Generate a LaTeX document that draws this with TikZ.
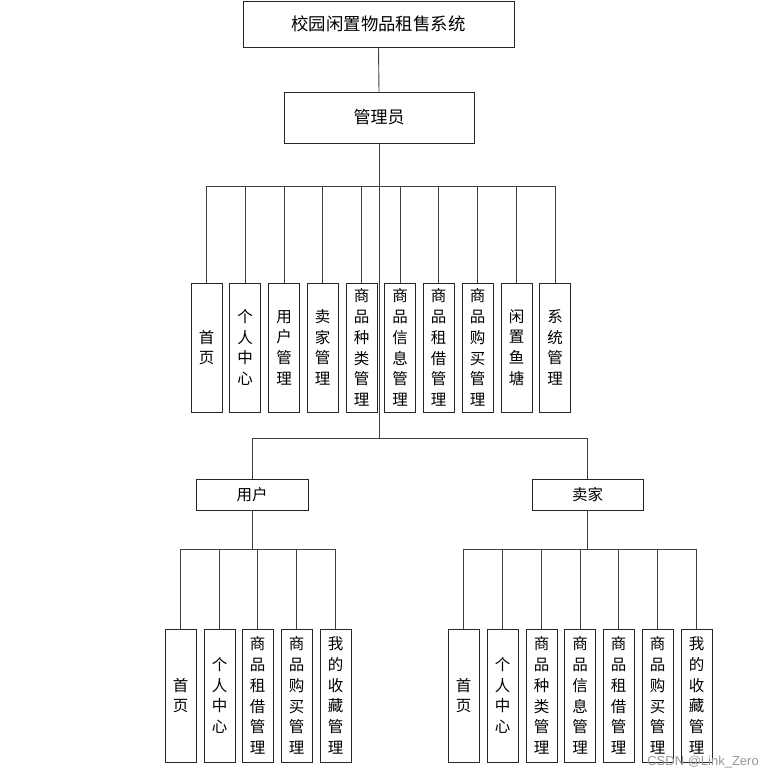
\documentclass[tikz,border=0pt]{standalone}
\usepackage{fontspec}
\newfontfamily\cjk{Noto Sans CJK SC}
\newfontfamily\wmfont{Liberation Sans}
\begin{document}
\begin{tikzpicture}[x=1pt,y=-1pt,
  boxstyle/.style={draw=black!85,line width=0.9pt,fill=white,inner sep=0pt,align=center},
  vbox/.style={boxstyle,minimum width=31pt,minimum height=129pt,font=\cjk\fontsize{15.5}{20.7}\selectfont},
  vboxb/.style={boxstyle,minimum width=31pt,minimum height=133pt,font=\cjk\fontsize{15.5}{20.7}\selectfont},
  conn/.style={draw=black!75,line width=0.9pt}]
\useasboundingbox (0,0) rectangle (774,778);
\fill[white] (0,0) rectangle (774,778);
% top levels
\node[boxstyle,minimum width=271pt,minimum height=46pt,font=\cjk\fontsize{17.4}{19}\selectfont] (sys) at (378.5,24) {校园闲置物品租售系统};
\node[boxstyle,minimum width=190pt,minimum height=51pt,font=\cjk\fontsize{17}{19}\selectfont] (admin) at (379,117.5) {管理员};
% admin children
\node[vbox] (a1) at (206.5,347.5) {首\\页};
\node[vbox] (a2) at (245,347.5) {个\\人\\中\\心};
\node[vbox] (a3) at (284,347.5) {用\\户\\管\\理};
\node[vbox] (a4) at (322.5,347.5) {卖\\家\\管\\理};
\node[vbox] (a5) at (361.5,347.5) {商\\品\\种\\类\\管\\理};
\node[vbox] (a6) at (400,347.5) {商\\品\\信\\息\\管\\理};
\node[vbox] (a7) at (438.5,347.5) {商\\品\\租\\借\\管\\理};
\node[vbox] (a8) at (477.5,347.5) {商\\品\\购\\买\\管\\理};
\node[vbox] (a9) at (516.5,347.5) {闲\\置\\鱼\\塘};
\node[vbox] (a10) at (555,347.5) {系\\统\\管\\理};
% user and seller
\node[boxstyle,minimum width=112pt,minimum height=31pt,font=\cjk\fontsize{15.5}{18}\selectfont] (user) at (252,494.5) {用户};
\node[boxstyle,minimum width=111pt,minimum height=31pt,font=\cjk\fontsize{15.5}{18}\selectfont] (seller) at (587.5,494.5) {卖家};
% user children
\node[vboxb] (u1) at (180.5,695.5) {首\\页};
\node[vboxb] (u2) at (219.5,695.5) {个\\人\\中\\心};
\node[vboxb] (u3) at (257.5,695.5) {商\\品\\租\\借\\管\\理};
\node[vboxb] (u4) at (296.5,695.5) {商\\品\\购\\买\\管\\理};
\node[vboxb] (u5) at (335.5,695.5) {我\\的\\收\\藏\\管\\理};
% seller children
\node[vboxb] (s1) at (463.5,695.5) {首\\页};
\node[vboxb] (s2) at (502.5,695.5) {个\\人\\中\\心};
\node[vboxb] (s3) at (541.5,695.5) {商\\品\\种\\类\\管\\理};
\node[vboxb] (s4) at (580,695.5) {商\\品\\信\\息\\管\\理};
\node[vboxb] (s5) at (618.5,695.5) {商\\品\\租\\借\\管\\理};
\node[vboxb] (s6) at (657.5,695.5) {商\\品\\购\\买\\管\\理};
\node[vboxb] (s7) at (696.5,695.5) {我\\的\\收\\藏\\管\\理};
% bus coordinates
\coordinate (bus1) at (379,186);
\coordinate (bus2) at (379,438);
\coordinate (ubus) at (252,549);
\coordinate (sbus) at (587.5,549);
% connectors
\draw[conn] (sys.south) -- (admin.north);
\draw[conn] (admin.south) -- (bus1);
\foreach \n in {a1,a2,a3,a4,a5,a6,a7,a8,a9,a10} {\draw[conn] (bus1) -| (\n.north);}
\draw[conn] (bus1) -- (bus2);
\draw[conn] (bus2) -| (user.north);
\draw[conn] (bus2) -| (seller.north);
\draw[conn] (user.south) -- (ubus);
\foreach \n in {u1,u2,u3,u4,u5} {\draw[conn] (ubus) -| (\n.north);}
\draw[conn] (seller.south) -- (sbus);
\foreach \n in {s1,s2,s3,s4,s5,s6,s7} {\draw[conn] (sbus) -| (\n.north);}
% watermark
\node[text=black!40,font=\wmfont\fontsize{13}{14}\selectfont,anchor=east,inner sep=0pt] (wm) at (759,762) {CSDN @Link\_Zero};
\end{tikzpicture}
\end{document}
